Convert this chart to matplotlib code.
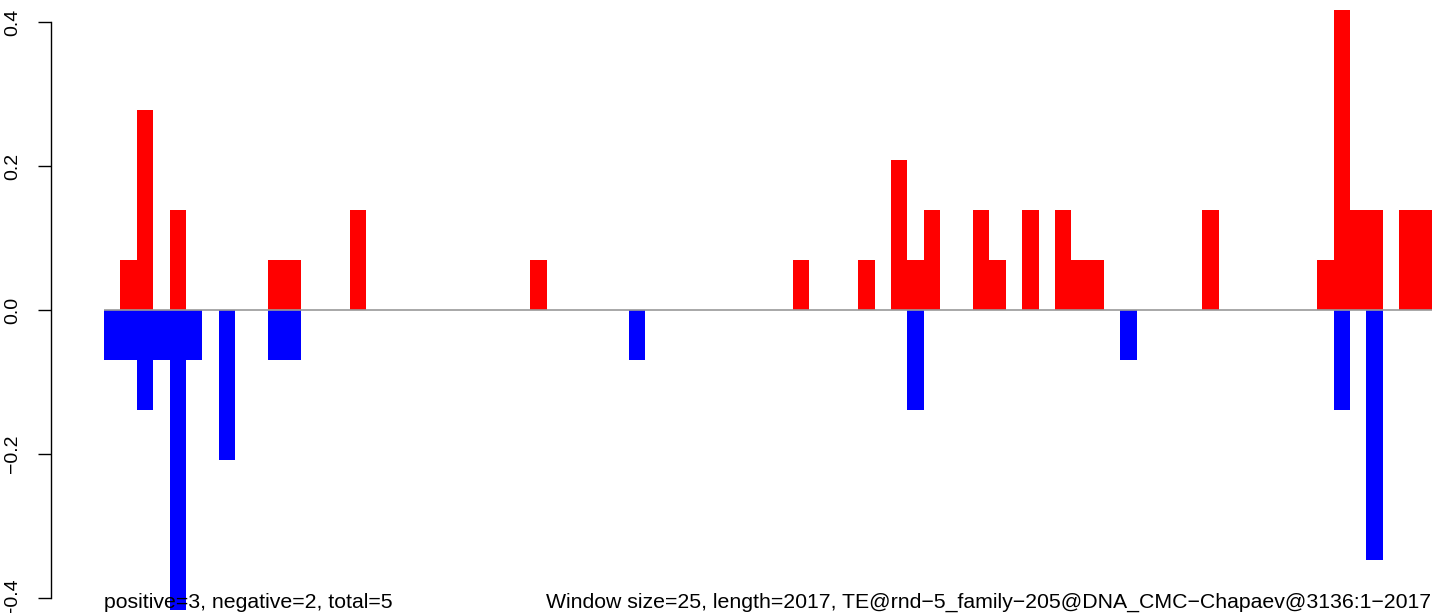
import numpy as np
import matplotlib
matplotlib.use('Agg')
from matplotlib import pyplot as plt

WINDOW = 25
LENGTH = 2017
N_WINDOWS = 81

# window index -> score
pos_windows = [1, 2, 4, 10, 11, 15, 26, 42, 46, 48, 49, 50, 53, 54, 56, 58,
               59, 60, 67, 74, 75, 76, 77, 79, 80]
pos_values = [0.069, 0.278, 0.139, 0.069, 0.069, 0.139, 0.069, 0.069, 0.069,
              0.208, 0.069, 0.139, 0.139, 0.069, 0.139, 0.139, 0.069, 0.069,
              0.139, 0.069, 0.417, 0.139, 0.139, 0.139, 0.139]
neg_windows = [0, 1, 2, 3, 4, 5, 7, 10, 11, 32, 49, 62, 75, 77]
neg_values = [-0.069, -0.069, -0.139, -0.069, -0.417, -0.069, -0.208, -0.069,
              -0.069, -0.069, -0.139, -0.069, -0.139, -0.347]

left_text = 'positive=3, negative=2, total=5'
right_text = ('Window size=25, length=2017, '
              'TE@rnd\u22125_family\u2212205@DNA_CMC\u2212Chapaev@3136:1\u22122017')

plt.rcParams['font.family'] = ['Liberation Sans', 'DejaVu Sans']
plt.rcParams['axes.unicode_minus'] = True

W, H = 1433, 613
fig = plt.figure(figsize=(W / 100, H / 100), dpi=100)
# plot region in pixels: x 104..1432, y 10..610 (from top)
ax = fig.add_axes([104 / W, 3 / H, 1328 / W, 600 / H])

x_pos = np.array(pos_windows) * WINDOW
x_neg = np.array(neg_windows) * WINDOW
ax.bar(x_pos, pos_values, width=WINDOW, align='edge', color='#ff0000',
       linewidth=0)
ax.bar(x_neg, neg_values, width=WINDOW, align='edge', color='#0000ff',
       linewidth=0)
ax.axhline(0, color='#999999', linewidth=1.2, zorder=3)

ax.set_xlim(0, N_WINDOWS * WINDOW)
ax.set_ylim(-0.4167, 0.4167)

for s in ['top', 'right', 'bottom']:
    ax.spines[s].set_visible(False)
ax.spines['left'].set_position(('outward', 38))
ax.spines['left'].set_bounds(-0.4, 0.4)
ax.spines['left'].set_linewidth(1.0)
ax.set_xticks([])
ax.set_yticks([-0.4, -0.2, 0.0, 0.2, 0.4])
ax.set_yticklabels(['\u22120.4', '\u22120.2', '0.0', '0.2', '0.4'])
ax.tick_params(axis='y', length=9.4, width=1.0, pad=12, labelsize=14,
               rotation=90)
for lbl in ax.get_yticklabels():
    lbl.set_verticalalignment('center')
    lbl.set_horizontalalignment('right')
    lbl.set_clip_on(False)

fig.text(104 / W, 5 / H, left_text, ha='left', va='baseline', fontsize=15.3)
fig.text(1431 / W, 5 / H, right_text, ha='right', va='baseline',
         fontsize=15.3)

fig.savefig('out.png', dpi=100)
